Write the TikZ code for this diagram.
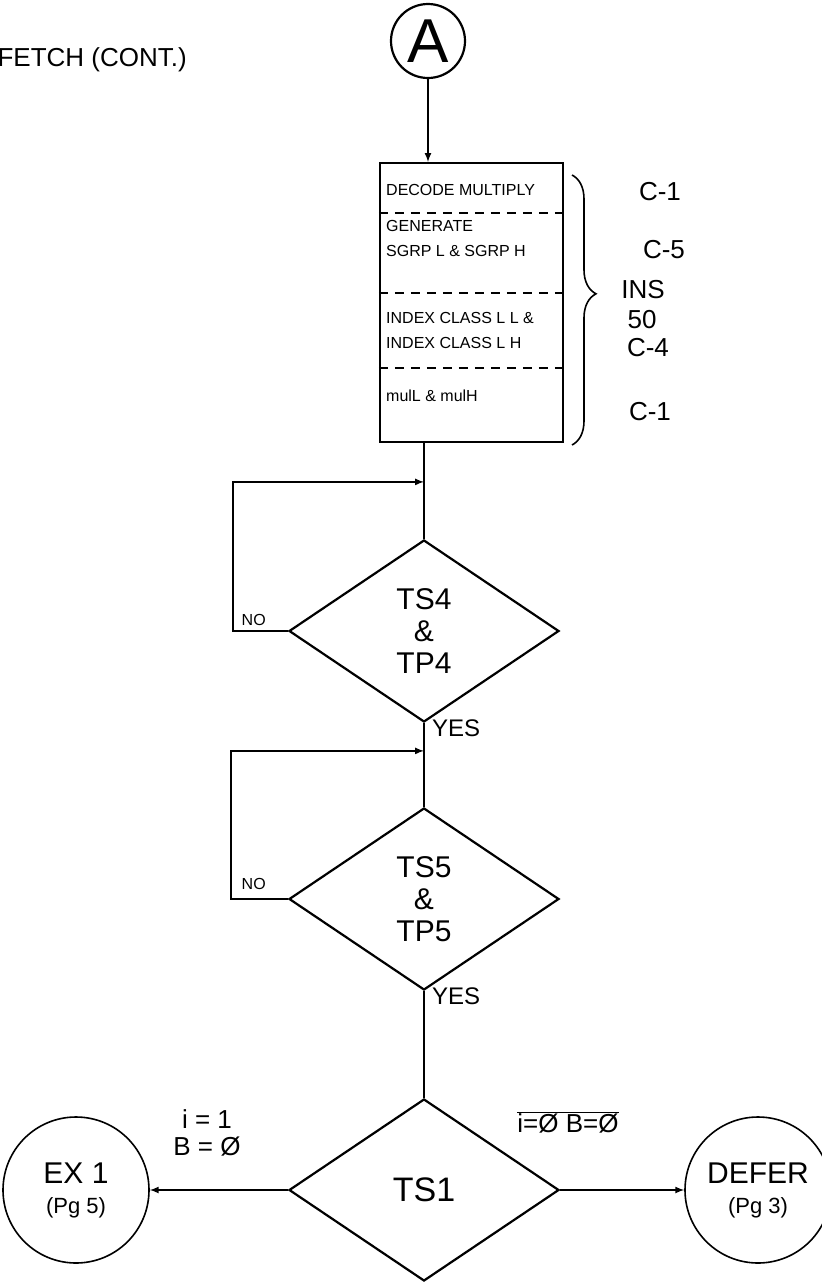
\documentclass[tikz,border=0pt]{standalone}
\usepackage{fontspec}
\setmainfont{Liberation Sans}
\usetikzlibrary{shapes,arrows,positioning,decorations.pathreplacing,calc}

\begin{document}
\begin{tikzpicture}[x=1pt, y=-1pt,
    block/.style={rectangle, draw, line width=2.2pt, minimum width=183pt, minimum height=279pt, inner sep=0pt},
    decision/.style={diamond, draw, line width=2.2pt, minimum width=270pt, minimum height=182pt, inner sep=0pt, align=center, font={\fontsize{30}{32}\selectfont}},
    term/.style={circle, draw, line width=1.6pt, minimum size=146pt, inner sep=0pt, align=center},
    line/.style={draw, -latex, line width=2pt},
    boxtext/.style={anchor=west, inner sep=0pt, font={\fontsize{16}{18}\selectfont}},
    cost/.style={font={\fontsize{26}{28}\selectfont}},
    answer/.style={inner sep=0pt, font={\fontsize{16}{18}\selectfont}}
]
\useasboundingbox (0,0) rectangle (822,1283);

\node [anchor=west, font={\fontsize{26}{28}\selectfont}] (title) at (-6,60) {FETCH (CONT.)};
\node [circle, draw, line width=2.2pt, minimum size=74pt, inner sep=0pt, font={\fontsize{62}{64}\selectfont}] (A) at (428,41) {A};

% instruction box
\node [block] (mul) at (471.5,302.5) {};
\foreach \yy in {213,293,368} {
    \coordinate (cut\yy) at (0,\yy);
    \draw [dashed, dash pattern=on 9pt off 7pt, line width=1.6pt] (mul.west |- cut\yy) -- (mul.east |- cut\yy);
}
\node [boxtext] (dec) at (386,190) {DECODE MULTIPLY};
\node [boxtext] (gen) at (386,226) {GENERATE};
\node [boxtext] (sgrp) at (386,251) {SGRP L \& SGRP H};
\node [boxtext] (idx1) at (386,318) {INDEX CLASS L L \&};
\node [boxtext] (idx2) at (386,343) {INDEX CLASS L H};
\node [boxtext] (mull) at (386,396) {mulL \& mulH};

\draw [decorate, decoration={brace, amplitude=24pt, aspect=0.44}, line width=1.6pt] (572,175) -- (572,445);
\node [cost] (c1) at (660,192) {C-1};
\node [cost] (c5) at (664,250) {C-5};
\node [cost] (ins) at (643,290) {INS};
\node [cost] (fifty) at (642,320) {50};
\node [cost] (c4) at (648,348) {C-4};
\node [cost] (c1b) at (650,412) {C-1};

% tests
\node [decision] (ts4) at (424,631) {TS4\\\&\\TP4};
\node [decision] (ts5) at (424,899) {TS5\\\&\\TP5};
\node [decision, font={\fontsize{34}{36}\selectfont}] (ts1) at (424,1190) {TS1};

\node [term, font={\fontsize{30}{32}\selectfont}] (ex1) at (76,1190) {EX 1\\[-2pt]{\fontsize{22}{24}\selectfont(Pg 5)}};
\node [term, font={\fontsize{30}{32}\selectfont}] (defer) at (758,1190) {DEFER\\[-2pt]{\fontsize{22}{24}\selectfont(Pg 3)}};

\coordinate (j4) at ($(ts4.north)+(0,-57)$);
\coordinate (j5) at ($(ts5.north)+(0,-56)$);

\path [line] (A.south) -- (A.south |- mul.north);
\draw [line width=2pt] (ts4.north |- mul.south) -- (ts4.north);
\path [line] (ts4.west) -- ++(-55,0) |- (j4);
\draw [line width=2pt] (ts4.south) -- (ts5.north);
\path [line] (ts5.west) -- ++(-57,0) |- (j5);
\draw [line width=2pt] (ts5.south) -- (ts1.north);
\path [line] (ts1.west) -- (ex1);
\path [line] (ts1.east) -- (defer);

\node [answer, above left=5pt and 22pt of ts4.west] (no4) {NO};
\node [answer, font={\fontsize{24}{26}\selectfont}, below right=-4pt and 8pt of ts4.south] (yes4) {YES};
\node [answer, above left=9pt and 22pt of ts5.west] (no5) {NO};
\node [answer, font={\fontsize{24}{26}\selectfont}, below right=-4pt and 8pt of ts5.south] (yes5) {YES};

\node [align=center, font={\fontsize{26}{27}\selectfont}] (cond1) at (207,1133) {i = 1\\B = Ø};
\node [font={\fontsize{26}{28}\selectfont}] (cond0) at (568,1122) {$\overline{\mbox{i=Ø B=Ø}}$};

\end{tikzpicture}
\end{document}
